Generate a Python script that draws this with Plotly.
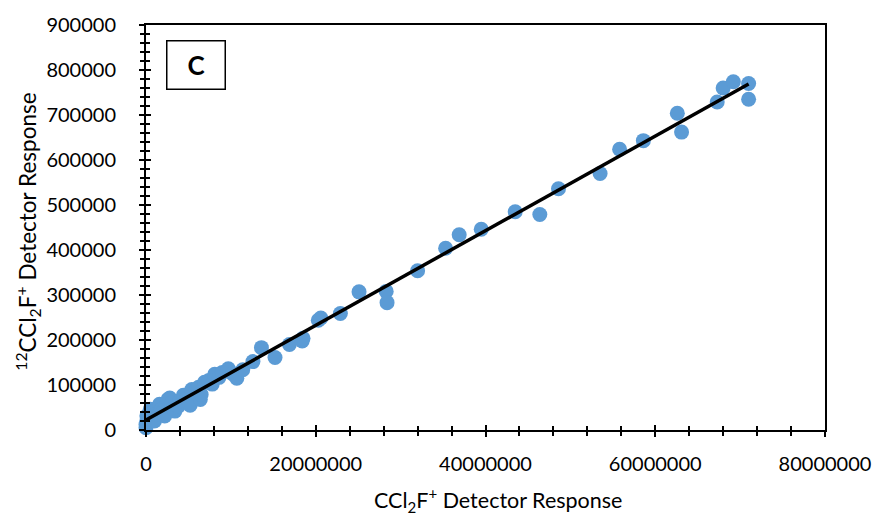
import numpy as np
import plotly.graph_objects as go

# CCl2F+ detector response (x) vs 12CCl2F+ detector response (y)
ccl2f_response = [
    0.0e6, 0.0e6, 0.1e6, 0.1e6, 0.3e6, 0.5e6, 0.7e6, 1.0e6, 1.1e6, 1.4e6,
    1.6e6, 1.8e6, 2.0e6, 2.2e6, 2.4e6, 2.6e6, 2.8e6, 3.0e6, 3.2e6, 3.4e6,
    3.8e6, 4.0e6, 4.4e6, 4.8e6, 5.2e6, 5.4e6, 5.8e6, 6.2e6, 6.4e6, 6.5e6,
    6.9e6, 7.4e6, 7.8e6, 8.1e6, 8.6e6, 9.0e6, 9.7e6, 10.2e6, 10.7e6, 11.4e6,
    12.6e6, 13.6e6, 15.2e6, 16.9e6, 18.4e6, 18.5e6, 20.3e6, 20.6e6, 22.9e6, 25.1e6,
    28.3e6, 28.4e6, 32.0e6, 35.3e6, 36.9e6, 39.5e6, 43.5e6, 46.4e6, 48.6e6, 53.5e6,
    55.8e6, 58.6e6, 62.6e6, 63.1e6, 67.3e6, 68.0e6, 69.2e6, 71.0e6, 71.0e6,
]
c12_response = [
    5000, 12000, 20000, 31000, 25000, 46000, 38000, 20000, 35000, 50000,
    57000, 46000, 40000, 31000, 55000, 68000, 71000, 60000, 48000, 42000,
    53000, 65000, 77000, 70000, 55000, 90000, 85000, 95000, 68000, 79000,
    106000, 110000, 102000, 124000, 117000, 128000, 136000, 125000, 115000, 134000,
    152000, 183000, 161000, 190000, 198000, 204000, 244000, 249000, 259000, 307000,
    308000, 283000, 354000, 404000, 434000, 446000, 485000, 479000, 536000, 570000,
    624000, 643000, 704000, 662000, 729000, 760000, 774000, 770000, 735000,
]

x_range = [0, 80000000]
y_range = [0, 900000]
panel_label = "C"
x_title = "CCl<sub>2</sub>F<sup>+</sup> Detector Response"
y_title = "<sup>12</sup>CCl<sub>2</sub>F<sup>+</sup> Detector Response"

# least-squares linear trendline across the measured span
slope, intercept = np.polyfit(ccl2f_response, c12_response, 1)
x_fit = np.array([min(ccl2f_response), max(ccl2f_response)])
y_fit = slope * x_fit + intercept

font_family = "Lato, 'Open Sans', sans-serif"
ink = "#000000"

fig = go.Figure()

fig.add_trace(go.Scatter(
    x=ccl2f_response, y=c12_response, mode="markers",
    marker=dict(size=15, color="#5B9BD5", line=dict(width=0)),
    cliponaxis=False, showlegend=False, hoverinfo="skip",
))
fig.add_trace(go.Scatter(
    x=x_fit, y=y_fit, mode="lines",
    line=dict(color=ink, width=3.5),
    cliponaxis=False, showlegend=False, hoverinfo="skip",
))
# companion axes carry the inward half of the crossing tick marks
fig.add_trace(go.Scatter(
    x=[None], y=[None], xaxis="x2", yaxis="y2",
    showlegend=False, hoverinfo="skip",
))

common = dict(showgrid=False, zeroline=False, tickcolor=ink, tickwidth=2)

fig.update_layout(
    width=883, height=518,
    margin=dict(l=146, r=57, t=22, b=88),
    paper_bgcolor="white", plot_bgcolor="white",
    font=dict(family=font_family, size=20, color=ink),
    xaxis=dict(
        range=x_range, dtick=20000000, tickformat="d",
        showline=True, linecolor=ink, linewidth=2, mirror=True,
        ticks="outside", ticklen=5, ticklabelstandoff=10,
        minor=dict(dtick=4000000, ticks="outside", ticklen=4, tickwidth=2, tickcolor=ink),
        tickfont=dict(size=20),
        **common,
    ),
    yaxis=dict(
        range=y_range, dtick=100000, tickformat="d",
        showline=True, linecolor=ink, linewidth=2, mirror=True,
        ticks="outside", ticklen=5, ticklabelstandoff=19,
        minor=dict(dtick=20000, ticks="outside", ticklen=4, tickwidth=2, tickcolor=ink),
        tickfont=dict(size=20),
        **common,
    ),
    xaxis2=dict(
        range=x_range, dtick=20000000, overlaying="x", anchor="y", side="bottom",
        ticks="inside", ticklen=5, showticklabels=False, showline=False,
        minor=dict(dtick=4000000, ticks="inside", ticklen=4, tickwidth=2, tickcolor=ink),
        **common,
    ),
    yaxis2=dict(
        range=y_range, dtick=100000, overlaying="y", anchor="x", side="left",
        ticks="inside", ticklen=5, showticklabels=False, showline=False,
        minor=dict(dtick=20000, ticks="inside", ticklen=4, tickwidth=2, tickcolor=ink),
        **common,
    ),
    annotations=[
        dict(
            text=f"<b>{panel_label}</b>", xref="paper", yref="paper",
            x=0.0735, y=0.902, xanchor="center", yanchor="middle",
            showarrow=False, font=dict(size=26, color=ink),
            bordercolor=ink, borderwidth=1.5, borderpad=0,
            width=57, height=47, bgcolor="white",
        ),
        # axis titles
        dict(
            text=x_title, xref="paper", yref="paper",
            x=0.519, y=-0.172, xanchor="center", yanchor="middle",
            showarrow=False, font=dict(size=21.5, color=ink),
        ),
        dict(
            text=y_title, xref="paper", yref="paper", textangle=-90,
            x=-0.175, y=0.49, xanchor="center", yanchor="middle",
            showarrow=False, font=dict(size=22.5, color=ink),
        ),
    ],
)

fig.write_html("out.html")
